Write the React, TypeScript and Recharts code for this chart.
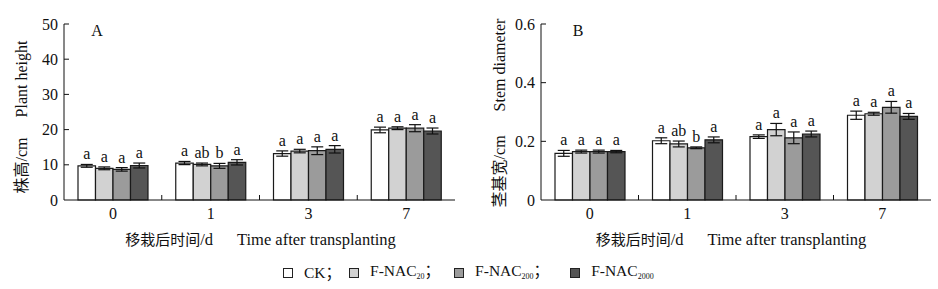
import React from 'react';
import { BarChart, Bar, XAxis, YAxis, ErrorBar, LabelList, Legend, Label } from 'recharts';

const FONT = "'Liberation Serif', 'Times New Roman', 'Noto Sans CJK SC', serif";

// ---------- data ----------
const days = ['0', '1', '3', '7'];

const heightCK = [9.7, 10.5, 13.2, 19.9];
const heightCKErr = [0.4, 0.45, 0.75, 0.8];
const heightF20 = [9.0, 10.1, 13.9, 20.4];
const heightF20Err = [0.4, 0.4, 0.5, 0.4];
const heightF200 = [8.7, 9.7, 14.0, 20.4];
const heightF200Err = [0.5, 0.7, 1.1, 1.0];
const heightF2000 = [9.8, 10.7, 14.4, 19.6];
const heightF2000Err = [0.7, 0.75, 1.05, 0.85];

const stemCK = [0.159, 0.202, 0.216, 0.289];
const stemCKErr = [0.01, 0.01, 0.006, 0.014];
const stemF20 = [0.165, 0.191, 0.24, 0.294];
const stemF20Err = [0.005, 0.01, 0.021, 0.005];
const stemF200 = [0.165, 0.178, 0.212, 0.316];
const stemF200Err = [0.005, 0.003, 0.02, 0.02];
const stemF2000 = [0.165, 0.205, 0.225, 0.285];
const stemF2000Err = [0.004, 0.01, 0.01, 0.01];

const lettersCK = ['a', 'a', 'a', 'a'];
const lettersF20 = ['a', 'ab', 'a', 'a'];
const lettersF200 = ['a', 'b', 'a', 'a'];
const lettersF2000 = ['a', 'a', 'a', 'a'];

const heightTicks = [0, 10, 20, 30, 40, 50];
const stemTicks = [0, 0.2, 0.4, 0.6];

const seriesKeys = ['ck', 'f20', 'f200', 'f2000'];
const seriesNames = ['CK', 'F-NAC', 'F-NAC', 'F-NAC'];
const seriesSubs = ['', '20', '200', '2000'];
const seriesSep = ['；', '；', '；', ''];
const seriesFills = ['#ffffff', '#d2d2d2', '#9b9b9b', '#555555'];
const seriesLetters = [lettersCK, lettersF20, lettersF200, lettersF2000];

const buildRows = (vals: number[][], errs: number[][]) =>
  days.map((d, i) => {
    const row: any = { day: d };
    seriesKeys.forEach((k, s) => {
      row[k] = vals[s][i];
      row[k + 'Err'] = errs[s][i];
      row[k + 'Sig'] = seriesLetters[s][i];
    });
    return row;
  });

const heightRows = buildRows(
  [heightCK, heightF20, heightF200, heightF2000],
  [heightCKErr, heightF20Err, heightF200Err, heightF2000Err]
);
const stemRows = buildRows(
  [stemCK, stemF20, stemF200, stemF2000],
  [stemCKErr, stemF20Err, stemF200Err, stemF2000Err]
);

// ---------- helpers ----------
const CH_W = 469;
const CH_H = 289;
const PLOT_TOP = 24;
const PLOT_BOTTOM = 200;

const makeSig = (rows: any[], key: string) => (props: any) => {
  const vb = props.viewBox && props.viewBox.width !== undefined ? props.viewBox : props;
  const { x, y, width, height } = vb;
  const i = props.index;
  const row = rows[i];
  if (!row || x === undefined) return null;
  const perUnit = height / row[key];
  const top = y - row[key + 'Err'] * perUnit;
  return (
    <text x={x + width / 2} y={top - 5} textAnchor="middle" fontSize={16} fontFamily={FONT} fill="#111">
      {row[key + 'Sig']}
    </text>
  );
};

const makeXTick = (plotW: number) => (props: any) => {
  const { x, y, payload, index } = props;
  const n = days.length;
  const step = plotW / n;
  return (
    <g>
      <text x={x} y={y + 18.5} textAnchor="middle" fontSize={16} fontFamily={FONT} fill="#111">
        {payload.value}
      </text>
      {index < n - 1 && (
        <line x1={x + step / 2} x2={x + step / 2} y1={y} y2={y - 5} stroke="#111" strokeWidth={1} />
      )}
    </g>
  );
};

const makeYTick = (fmt: (v: number) => string) => (props: any) => {
  const { x, y, payload } = props;
  return (
    <g>
      <text x={x - 6} y={y + 5.5} textAnchor="end" fontSize={16} fontFamily={FONT} fill="#111">
        {fmt(payload.value)}
      </text>
      {payload.value !== 0 && <line x1={x} x2={x + 5} y1={y} y2={y} stroke="#111" strokeWidth={1} />}
    </g>
  );
};

interface PanelProps {
  rows: any[];
  domain: [number, number];
  ticks: number[];
  fmt: (v: number) => string;
  yAxisW: number;
  marginRight: number;
  yTitleCn: string;
  yTitleEn: string;
  yTitleX: number;
  yTitleY: number;
  yTitleGap: number;
  panel: string;
  panelDx: number;
  xTitleDx: number;
  showLegend?: boolean;
}

const LegendContent = () => {
  const gaps = [8, 14, 21, 0];
  return (
    <div style={{ display: 'flex', alignItems: 'center', fontFamily: FONT, fontSize: 15.5, lineHeight: '20px', color: '#111', whiteSpace: 'nowrap' }}>
      {seriesKeys.map((k, i) => (
        <div key={k} style={{ display: 'flex', alignItems: 'center', marginRight: gaps[i] }}>
          <span style={{ display: 'inline-block', width: 8, height: 8, border: '1px solid #222', background: seriesFills[i], marginRight: 11 }} />
          <span>
            {seriesNames[i]}
            {seriesSubs[i] && <span style={{ fontSize: 8, position: 'relative', top: 3 }}>{seriesSubs[i]}</span>}
            {seriesSep[i]}
          </span>
        </div>
      ))}
    </div>
  );
};

const Panel = (p: PanelProps) => {
  const plotW = CH_W - p.yAxisW - p.marginRight;
  const XTick = makeXTick(plotW);
  const YTick = makeYTick(p.fmt);
  return (
    <BarChart
      width={CH_W}
      height={CH_H}
      data={p.rows}
      margin={{ top: PLOT_TOP, right: p.marginRight, bottom: 0, left: 0 }}
      barGap={0}
      barCategoryGap="14%"
    >
      <XAxis
        dataKey="day"
        height={CH_H - PLOT_BOTTOM}
        interval={0}
        tickLine={false}
        tickSize={0}
        tickMargin={0}
        axisLine={{ stroke: '#111', strokeWidth: 1 }}
        tick={XTick}
      >
        <Label
          content={(lp: any) => {
            const vb = lp.viewBox || { x: p.yAxisW, y: PLOT_BOTTOM, width: plotW };
            return (
              <text x={vb.x + vb.width / 2 + p.xTitleDx} y={PLOT_BOTTOM + 45} textAnchor="middle" fontSize={16.5} fontFamily={FONT} fill="#111">
                <tspan fontSize={15}>移栽后时间</tspan>
                <tspan>/d</tspan>
                <tspan dx={24}>Time after transplanting</tspan>
              </text>
            );
          }}
        />
      </XAxis>
      <YAxis
        type="number"
        domain={p.domain}
        ticks={p.ticks}
        width={p.yAxisW}
        tickLine={false}
        tickSize={0}
        tickMargin={0}
        axisLine={{ stroke: '#111', strokeWidth: 1 }}
        tick={YTick}
        interval={0}
      >
        <Label
          content={() => {
            const cx = p.yTitleX;
            const cy = p.yTitleY;
            return (
              <g>
                <text
                  x={cx}
                  y={cy}
                  transform={`rotate(-90 ${cx} ${cy})`}
                  textAnchor="middle"
                  dominantBaseline="central"
                  fontSize={16}
                  fontFamily={FONT}
                  fill="#111"
                >
                  <tspan>{p.yTitleCn}</tspan>
                  <tspan dx={p.yTitleGap}>{p.yTitleEn}</tspan>
                </text>
                <text x={p.yAxisW + p.panelDx} y={PLOT_TOP + 12} textAnchor="middle" fontSize={16} fontFamily={FONT} fill="#111">
                  {p.panel}
                </text>
              </g>
            );
          }}
        />
      </YAxis>
      {seriesKeys.map((k, i) => (
        <Bar
          key={k}
          dataKey={k}
          fill={seriesFills[i]}
          stroke="#1a1a1a"
          strokeWidth={1.2}
          barSize={17.5}
          isAnimationActive={false}
        >
          <ErrorBar dataKey={k + 'Err'} width={6} stroke="#111" strokeWidth={1.2} direction="y" />
          <LabelList dataKey={k + 'Sig'} content={makeSig(p.rows, k)} />
        </Bar>
      ))}
      {p.showLegend && (
        <Legend
          layout="horizontal"
          verticalAlign="middle"
          align="center"
          content={() => <LegendContent />}
          wrapperStyle={{ position: 'absolute', top: 261, left: 283, width: 420, height: 20 }}
        />
      )}
    </BarChart>
  );
};

export default function App() {
  return (
    <div style={{ position: 'absolute', left: 0, top: 0, width: 938, height: 289, background: '#fff', overflow: 'hidden' }}>
      <div style={{ position: 'absolute', left: 0, top: 0 }}>
        <Panel
          rows={heightRows}
          domain={[0, 50]}
          ticks={heightTicks}
          fmt={(v) => String(v)}
          yAxisW={64}
          marginRight={14}
          yTitleCn="株高/cm"
          yTitleEn="Plant height"
          yTitleX={21}
          yTitleY={117}
          yTitleGap={20}
          panel="A"
          panelDx={33}
          xTitleDx={1}
          showLegend
        />
      </div>
      <div style={{ position: 'absolute', left: 469, top: 0 }}>
        <Panel
          rows={stemRows}
          domain={[0, 0.6]}
          ticks={stemTicks}
          fmt={(v) => (v === 0 ? '0' : v.toFixed(1))}
          yAxisW={72}
          marginRight={7}
          yTitleCn="茎基宽/cm"
          yTitleEn="Stem diameter"
          yTitleX={30}
          yTitleY={113}
          yTitleGap={24}
          panel="B"
          panelDx={37}
          xTitleDx={-5}
        />
      </div>
    </div>
  );
}
